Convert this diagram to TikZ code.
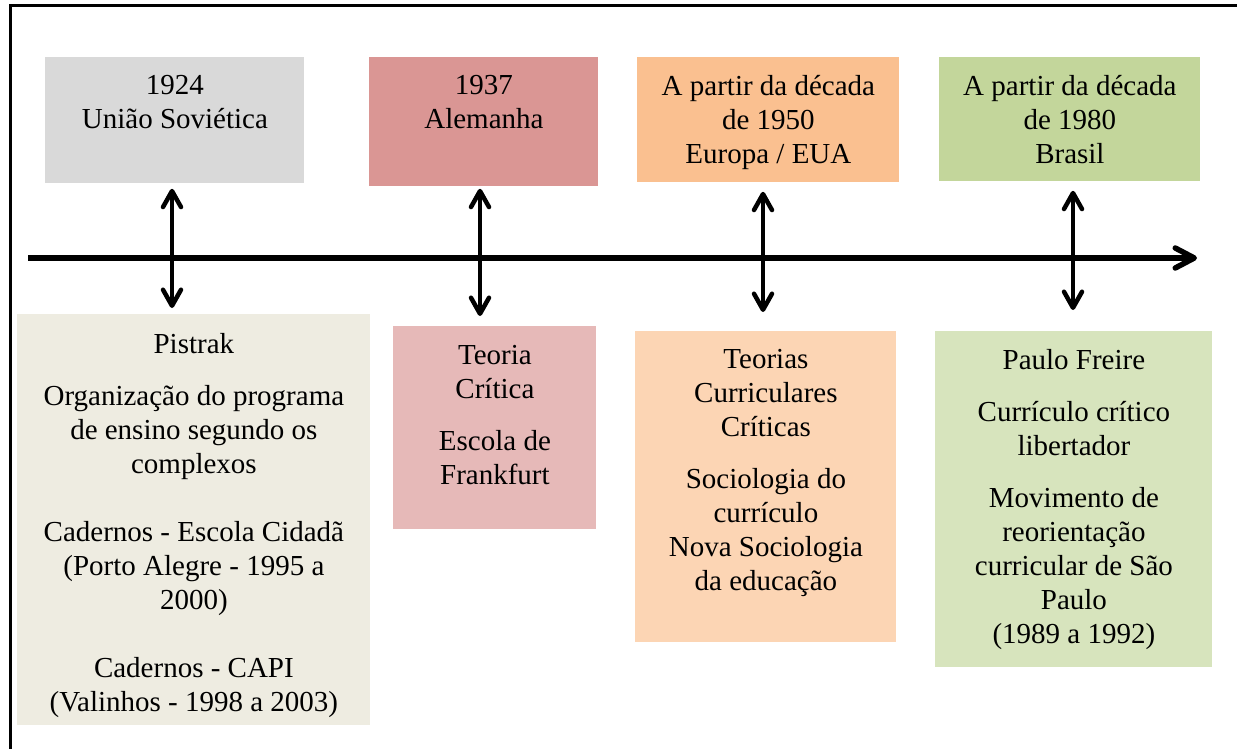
\documentclass[tikz,border=0pt]{standalone}
\usepackage{fontspec}
\setmainfont{Liberation Serif}
\usepackage{tikz}
\usetikzlibrary{arrows.meta,positioning}

\definecolor{cinza}{HTML}{D9D9D9}
\definecolor{vermelho}{HTML}{DA9694}
\definecolor{laranja}{HTML}{FAC090}
\definecolor{verde}{HTML}{C3D69B}
\definecolor{bege}{HTML}{EEECE1}
\definecolor{rosa}{HTML}{E6B9B8}
\definecolor{pessego}{HTML}{FCD5B4}
\definecolor{verdeclaro}{HTML}{D7E4BD}

\tikzset{
    caixa/.style={rectangle, inner sep=0pt, anchor=north west},
    texto/.style={align=center, inner sep=0pt, font=\rmfamily\fontsize{14.5pt}{17pt}\selectfont},
    eixo/.style={line width=2.75pt, -{Straight Barb[length=9.5pt,width=10pt,round]}},
    seta/.style={line width=2.25pt, {Straight Barb[length=8pt,width=9pt,round]}-{Straight Barb[length=8pt,width=9pt,round]}}
}

\begin{document}
\begin{tikzpicture}[x=0.5pt,y=-0.5pt]

        \useasboundingbox (0,0) rectangle (1237,749);
        \draw[line width=1.5pt] (10,749) -- (10,6) -- (1237,6);

        % caixas de cima
        \node[caixa, fill=cinza, minimum width=129.5pt, minimum height=63pt] (t1) at (45,57) {};
        \node[caixa, fill=vermelho, minimum width=114.5pt, minimum height=64.5pt] (t2) at (369,57) {};
        \node[caixa, fill=laranja, minimum width=131pt, minimum height=62.5pt] (t3) at (637,57) {};
        \node[caixa, fill=verde, minimum width=130.5pt, minimum height=62pt] (t4) at (939,57) {};

        \node[texto, below=9pt of t1.north] (x1) {1924\\ União Soviética};
        \node[texto, below=9pt of t2.north] (x2) {1937\\ Alemanha};
        \node[texto, below=9pt of t3.north] (x3) {A partir da década\\ de 1950\\ Europa / EUA};
        \node[texto, below=9pt of t4.north] (x4) {A partir da década\\ de 1980\\ Brasil};

        % caixas de baixo
        \node[caixa, fill=bege, minimum width=176.5pt, minimum height=205.5pt] (b1) at (17,314) {};
        \node[caixa, fill=rosa, minimum width=101.5pt, minimum height=101.5pt] (b2) at (393,326) {};
        \node[caixa, fill=pessego, minimum width=130.5pt, minimum height=155.5pt] (b3) at (635,331) {};
        \node[caixa, fill=verdeclaro, minimum width=138.5pt, minimum height=168pt] (b4) at (935,331) {};

        \node[texto, below=9.5pt of b1.north] (y1) {Pistrak\\[9pt]
            Organização do programa\\ de ensino segundo os\\ complexos\\[17pt]
            Cadernos - Escola Cidadã\\ (Porto Alegre - 1995 a\\ 2000)\\[17pt]
            Cadernos - CAPI\\ (Valinhos - 1998 a 2003)};
        \node[texto, below=9.5pt of b2.north] (y2) {Teoria\\ Crítica\\[9pt] Escola de\\ Frankfurt};
        \node[texto, below=9pt of b3.north] (y3) {Teorias\\ Curriculares\\ Críticas\\[9pt]
            Sociologia do\\ currículo\\ Nova Sociologia\\ da educação};
        \node[texto, below=9pt of b4.north] (y4) {Paulo Freire\\[9pt]
            Currículo crítico\\ libertador\\[9pt]
            Movimento de\\ reorientação\\ curricular de São\\ Paulo\\ (1989 a 1992)};

        % linha do tempo
        \coordinate (ini) at (28,258);
        \coordinate (fim) at (1197,258);
        \draw[eixo] (ini) -- (fim);

        \foreach \i/\x/\s/\e in {1/172/2.5/3, 2/480/1/5, 3/763/4.5/9.5, 4/1073/4.5/10.5}
            { \coordinate (m\i) at (\x,258);
              \draw[seta, shorten <=\s pt, shorten >=\e pt] (t\i.south -| m\i) -- (b\i.north -| m\i);}

\end{tikzpicture}
\end{document}
